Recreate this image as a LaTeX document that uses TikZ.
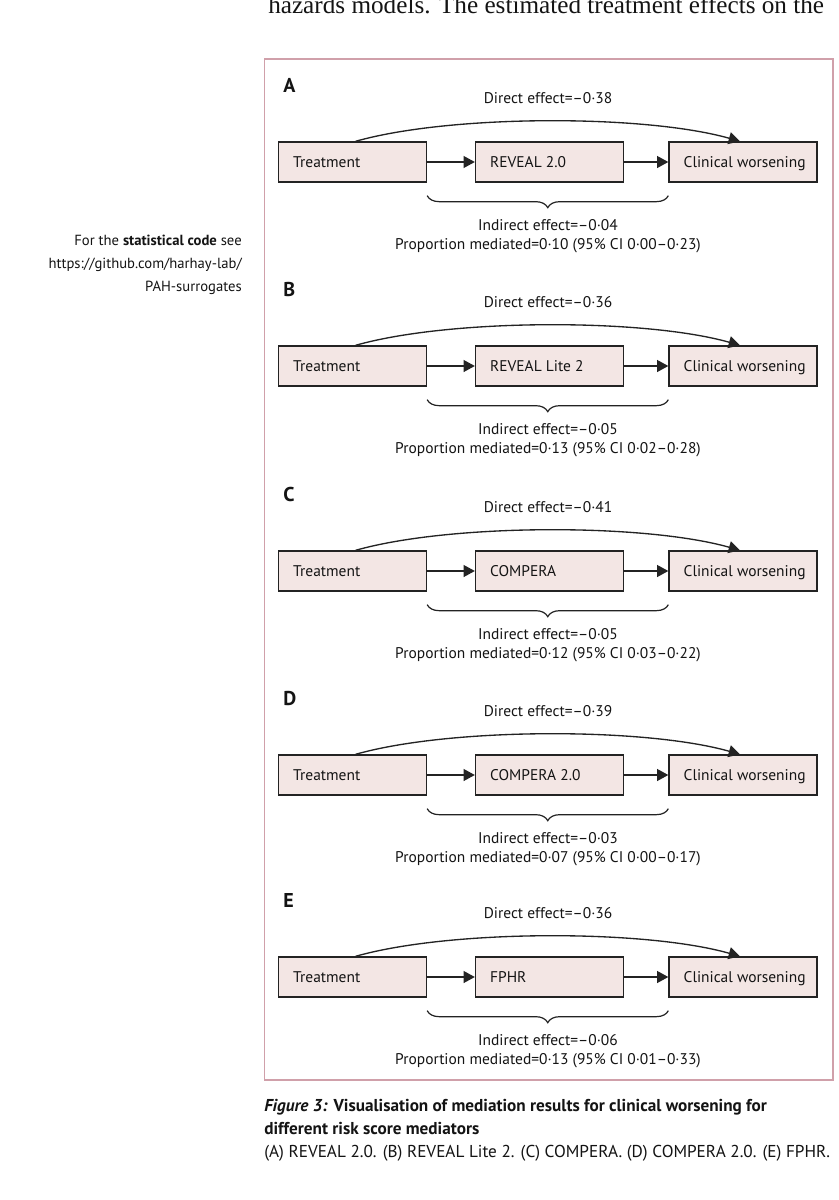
\documentclass[tikz,border=0pt]{standalone}
\usepackage{fontspec}
\setmainfont{PT Sans}
\newfontfamily\topserif{Liberation Serif}
\usetikzlibrary{arrows.meta,decorations.pathreplacing,calc}
\definecolor{framecol}{RGB}{208,160,170}
\definecolor{boxfill}{RGB}{243,230,228}
\definecolor{linecol}{RGB}{35,35,35}
\definecolor{txtcol}{RGB}{20,20,20}
\newcommand{\mainsz}{\fontsize{11.6}{14}\selectfont}
\newcommand{\boxtxt}[1]{\makebox[89pt][l]{#1}}
\begin{document}
\begin{tikzpicture}[x=0.75pt,y=-0.75pt,
  box/.style={draw=linecol, fill=boxfill, line width=1pt, minimum height=30pt,
    minimum width=111pt, inner xsep=11pt, inner ysep=0pt, text height=10.3pt, text depth=2.6pt,
    font=\mainsz, text=txtcol},
  arr/.style={draw=linecol, line width=1pt, -{Triangle[length=8.5pt,width=9pt]}},
  bracestyle/.style={draw=linecol, line width=0.9pt, decorate,
    decoration={brace, mirror, amplitude=9pt}},
  txt/.style={font=\mainsz, text=txtcol, inner sep=0pt},
  panlab/.style={font=\fontsize{15}{17}\selectfont\bfseries, text=txtcol, inner sep=0pt},
  side/.style={font=\fontsize{11}{13}\selectfont, text=txtcol, inner sep=0pt, anchor=base east},
  capt/.style={font=\fontsize{12.9}{15}\selectfont, text=txtcol, inner sep=0pt, anchor=base west}]
\useasboundingbox (0,0) rectangle (839,1200);
\clip (0,0) rectangle (839,1200);
\fill[white] (0,0) rectangle (839,1200);
% running text cut at the top
\node[anchor=base west, inner sep=0pt, font=\topserif\fontsize{18.9}{22}\selectfont, text=txtcol] (toptext) at (268,13) {hazards models. The estimated treatment effects on the};
% frame
\draw[framecol, line width=1.1pt] (264.5,59) rectangle (833,1080);
% side note
\node[side] (s1) at (242,245) {For the \textbf{statistical code} see};
\node[side] (s2) at (242,268) {https://github.com/harhay-lab/};
\node[side] (s3) at (242,291) {PAH-surrogates};
% panels
\foreach \L/\off/\med/\de/\ie/\pr in {
  A/0/{REVEAL 2.0}/{0·38}/{0·04}/{0·10 (95\% CI 0·00–0·23)},
  B/204/{REVEAL Lite 2}/{0·36}/{0·05}/{0·13 (95\% CI 0·02–0·28)},
  C/409/{COMPERA}/{0·41}/{0·05}/{0·12 (95\% CI 0·03–0·22)},
  D/613/{COMPERA 2.0}/{0·39}/{0·03}/{0·07 (95\% CI 0·00–0·17)},
  E/815/{FPHR}/{0·36}/{0·06}/{0·13 (95\% CI 0·01–0·33)}}
{
  \node[panlab, anchor=base west] (lab\L) at (283,92+\off) {\L};
  \node[box] (T\L) at (352.5,162+\off) {\boxtxt{Treatment}};
  \node[box] (M\L) at (549.5,162+\off) {\boxtxt{\med}};
  \node[box] (C\L) at (743,162+\off) {\boxtxt{Clinical worsening}};
  \draw[arr] (T\L) -- (M\L);
  \draw[arr] (M\L) -- (C\L);
  \draw[arr] ($(T\L.north west)!0.52!(T\L.north east)$) .. controls +(95,-27) and +(-95,-27) .. ($(C\L.north west)!0.48!(C\L.north east)$);
  \draw[bracestyle] ($(T\L.south east)+(0,13)$) -- ($(C\L.south west)+(0,13)$);
  \node[txt, anchor=base] (d\L) at (548,103+\off) {Direct effect=–\de};
  \node[txt, anchor=base] (i\L) at (548,230+\off) {Indirect effect=–\ie};
  \node[txt, anchor=base] (p\L) at (548,249+\off) {Proportion mediated=\pr};
}
% caption
\node[capt] (c1) at (264,1111) {\textbf{\textit{Figure 3:} Visualisation of mediation results for clinical worsening for}};
\node[capt] (c2) at (264,1134) {\textbf{different risk score mediators}};
\node[capt] (c3) at (264,1157) {(A) REVEAL 2.0. (B) REVEAL Lite 2. (C) COMPERA. (D) COMPERA 2.0. (E) FPHR.};
\end{tikzpicture}
\end{document}
